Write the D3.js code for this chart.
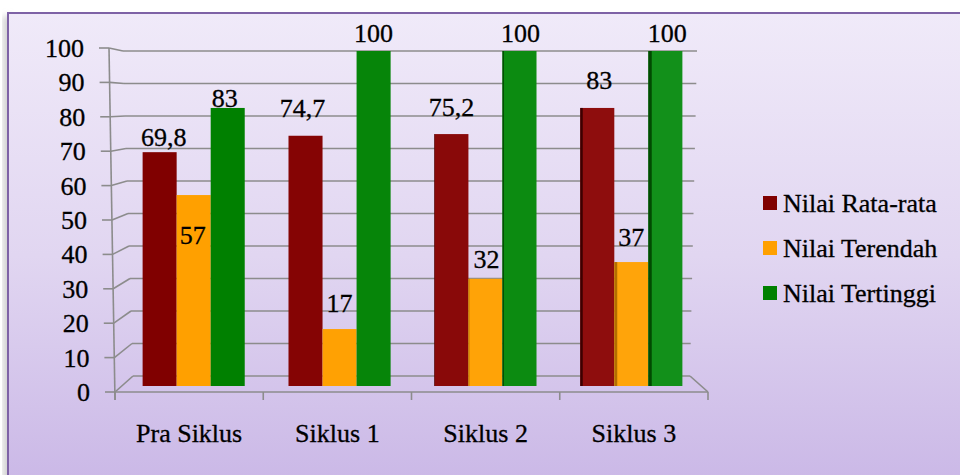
<!DOCTYPE html>
<html>
<head>
<meta charset="utf-8">
<script src="https://cdn.jsdelivr.net/npm/d3@7"></script>
<style>
  html, body { margin: 0; padding: 0; background: #ffffff; }
  svg { display: block; }
</style>
</head>
<body>
<svg id="chart" width="960" height="475"></svg>
<script>
// ---- data ----
const categories = ["Pra Siklus", "Siklus 1", "Siklus 2", "Siklus 3"];
const seriesNames = ["Nilai Rata-rata", "Nilai Terendah", "Nilai Tertinggi"];
const rataRata = [69.8, 74.7, 75.2, 83];
const terendah = [57, 17, 32, 37];
const tertinggi = [83, 100, 100, 100];
const yTicks = [0, 10, 20, 30, 40, 50, 60, 70, 80, 90, 100];

// ---- layout ----
const W = 960, H = 475;
const FONT = "Liberation Serif";
const FS = 26;
const colors = ["#800000", "#ffa000", "#008000"];
const litColors = ["#8e0d0d", "#ffa40a", "#12901a"];
const sideColors = ["#3c0000", "#b36e00", "#024a02"];
// label nudges (dx, dy from the bar's top centre) per series / category
const labelNudge = [
  [[4, -6], [-3, -19], [0, -18], [2, -19]],
  [[-1, 49], [0, -17], [1, -11], [0, -16]],
  [[-3, -1], [0, -9], [1, -9], [2, -9]]
];
// decimal comma, as written in Indonesian
const fmt = v => String(v).replace(".", ",");

const svg = d3.select("#chart");
const defs = svg.append("defs");

const bg = defs.append("linearGradient").attr("id", "bg")
  .attr("x1", 0).attr("y1", 0).attr("x2", 0).attr("y2", 1);
bg.append("stop").attr("offset", "0%").attr("stop-color", "#f0eaf9");
bg.append("stop").attr("offset", "50%").attr("stop-color", "#e1d6f1");
bg.append("stop").attr("offset", "100%").attr("stop-color", "#c9b6e6");

const shadow = defs.append("filter").attr("id", "soft")
  .attr("x", "-5%").attr("y", "-5%").attr("width", "110%").attr("height", "110%");
shadow.append("feGaussianBlur").attr("stdDeviation", 3);

// outer frame with a faint shadow on its left side
svg.append("rect").attr("x", 3).attr("y", 16).attr("width", 10).attr("height", H)
  .attr("fill", "#d0d0d0").attr("filter", "url(#soft)");
svg.append("rect").attr("x", 8).attr("y", 13).attr("width", W + 10).attr("height", H + 10)
  .attr("fill", "url(#bg)").attr("stroke", "#7e62a6").attr("stroke-width", 2);

// ---- scales ----
// bars (drawn on the depth plane)
const yBar = d3.scaleLinear().domain([0, 100]).range([386, 51]);
// front axis and back wall of the 3D plot box
const yFront = d3.scaleLinear().domain([0, 100]).range([392, 48]);
const xFront = d3.scaleLinear().domain([0, 100]).range([115, 109]);
const yBack = d3.scaleLinear().domain([0, 100]).range([376, 51]);
const xBackL = d3.scaleLinear().domain([0, 100]).range([133, 123]);
const xBackR = d3.scaleLinear().domain([0, 100]).range([690, 697]);

const xGroup = d3.scaleBand().domain(categories).range([120, 705])
  .paddingInner(0.3).paddingOuter(0.155);
const xSeries = d3.scaleBand().domain(seriesNames).range([0, xGroup.bandwidth()]);
const xCat = d3.scaleBand().domain(categories).range([115, 708]);

const grid = svg.append("g").attr("stroke", "#8c8c8c").attr("stroke-width", 1.6)
  .attr("fill", "none");

// back-wall gridlines and their diagonal connectors to the front axis
yTicks.forEach(v => {
  grid.append("line")
    .attr("x1", xBackL(v)).attr("y1", yBack(v))
    .attr("x2", xBackR(v)).attr("y2", yBack(v));
  grid.append("line")
    .attr("x1", xFront(v)).attr("y1", yFront(v))
    .attr("x2", xBackL(v)).attr("y2", yBack(v));
  grid.append("line")
    .attr("x1", xFront(v) - 10).attr("y1", yFront(v))
    .attr("x2", xFront(v)).attr("y2", yFront(v));
});
// front value axis
grid.append("line")
  .attr("x1", xFront(0)).attr("y1", yFront(0) + 8)
  .attr("x2", xFront(100)).attr("y2", yFront(100));
// floor: front edge, right edge
grid.append("line")
  .attr("x1", xFront(0)).attr("y1", yFront(0))
  .attr("x2", xCat.range()[1]).attr("y2", yFront(0));
grid.append("line")
  .attr("x1", xBackR(0)).attr("y1", yBack(0))
  .attr("x2", xCat.range()[1]).attr("y2", yFront(0));
// category tick marks
const catTicks = categories.map(c => xCat(c)).concat([xCat.range()[1]]);
catTicks.forEach(x => {
  grid.append("line").attr("x1", x).attr("y1", yFront(0))
    .attr("x2", x).attr("y2", yFront(0) + 8);
});

// shared text styling: serif, slightly heavy strokes
function textStyle(sel) {
  return sel.attr("font-family", FONT).attr("font-size", FS)
    .attr("fill", "#000").attr("stroke", "#000").attr("stroke-width", 0.3);
}

// y tick labels
svg.append("g").selectAll("text").data(yTicks).join("text")
  .attr("x", v => xFront(v) - 25)
  .attr("y", v => yFront(v) + 9)
  .attr("text-anchor", "end")
  .call(textStyle)
  .text(v => v);

// category labels
svg.append("g").selectAll("text").data(categories).join("text")
  .attr("x", c => xCat(c) + xCat.bandwidth() / 2)
  .attr("y", 442)
  .attr("text-anchor", "middle")
  .call(textStyle)
  .text(c => c);

// ---- bars ----
const seriesValues = [rataRata, terendah, tertinggi];
const midX = (xCat.range()[0] + xCat.range()[1]) / 2;
const barsG = svg.append("g");
seriesValues.forEach((vals, si) => {
  vals.forEach((v, ci) => {
    const x0 = xGroup(categories[ci]) + xSeries(seriesNames[si]);
    const w = xSeries.bandwidth();
    const y0 = yBar(v);
    const h = yBar(0) - y0;
    // light falls a little stronger on the right-hand groups
    const fill = d3.interpolateRgb(colors[si], litColors[si])(ci / (categories.length - 1));
    barsG.append("rect")
      .attr("x", x0).attr("y", y0).attr("width", w).attr("height", h)
      .attr("fill", fill);
    // visible side face of bars right of the centre
    const cx = x0 + w / 2;
    const side = Math.max(0, (cx - midX) / 75);
    if (side > 0.5) {
      barsG.append("rect")
        .attr("x", x0).attr("y", y0).attr("width", side).attr("height", h)
        .attr("fill", sideColors[si]);
    }
  });
});

// value labels
const labelsG = svg.append("g");
seriesValues.forEach((vals, si) => {
  vals.forEach((v, ci) => {
    const cx = xGroup(categories[ci]) + xSeries(seriesNames[si]) + xSeries.bandwidth() / 2;
    const [dx, dy] = labelNudge[si][ci];
    labelsG.append("text")
      .attr("x", cx + dx).attr("y", yBar(v) + dy)
      .attr("text-anchor", "middle")
      .call(textStyle)
      .text(fmt(v));
  });
});

// ---- legend ----
const legend = svg.append("g").attr("transform", "translate(763,196)");
seriesNames.forEach((name, i) => {
  const row = legend.append("g").attr("transform", `translate(0,${i * 45})`);
  row.append("rect").attr("width", 14).attr("height", 14).attr("fill", colors[i]);
  row.append("text").attr("x", 20).attr("y", 16)
    .call(textStyle)
    .text(name);
});
</script>
</body>
</html>
